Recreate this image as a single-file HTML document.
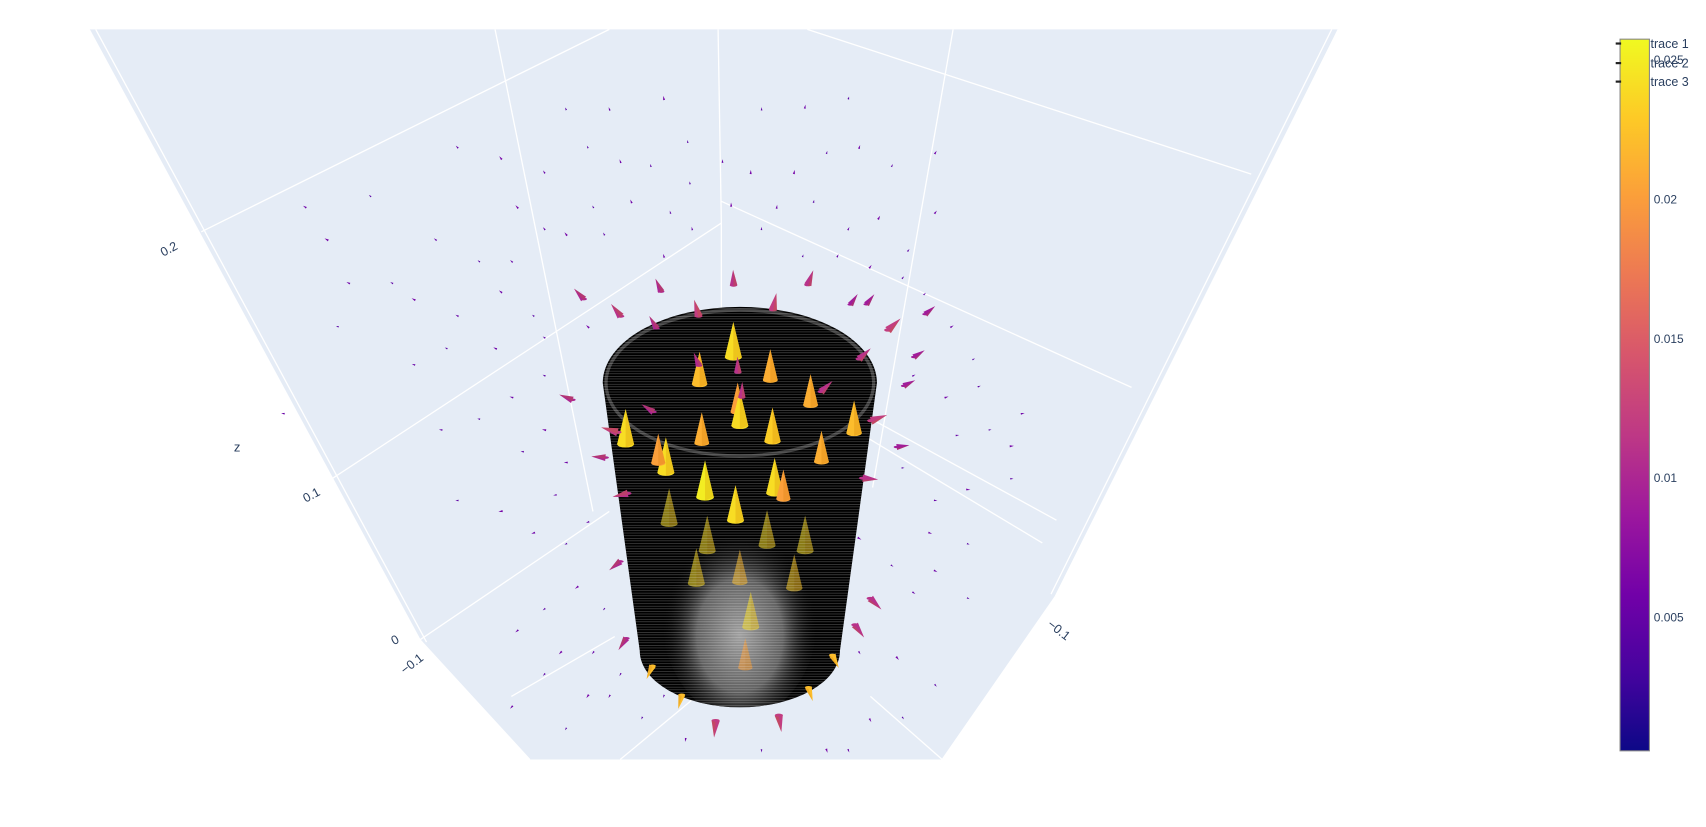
<!DOCTYPE html>
<html><head><meta charset="utf-8">
<style>
html,body{margin:0;padding:0;background:#fff;}
svg{display:block;font-family:"Liberation Sans",sans-serif;}
</style></head>
<body>
<svg id="chart" width="1706" height="827" viewBox="0 0 1568 760" preserveAspectRatio="none" xmlns="http://www.w3.org/2000/svg">
<defs>
<linearGradient id="plasma" x1="0" y1="1" x2="0" y2="0">
<stop offset="0" stop-color="#0d0887"/><stop offset="0.11" stop-color="#46039f"/><stop offset="0.22" stop-color="#7201a8"/><stop offset="0.33" stop-color="#9c179e"/><stop offset="0.44" stop-color="#bd3786"/><stop offset="0.56" stop-color="#d8576b"/><stop offset="0.67" stop-color="#ed7953"/><stop offset="0.78" stop-color="#fb9f3a"/><stop offset="0.89" stop-color="#fdca26"/><stop offset="1" stop-color="#f0f921"/>
</linearGradient>
<radialGradient id="innerGlow" cx="0.5" cy="0.6" r="0.5">
<stop offset="0" stop-color="#b0b0b0"/><stop offset="0.55" stop-color="#6a6a6a"/><stop offset="1" stop-color="#000" stop-opacity="0"/>
</radialGradient>
<pattern id="stripes" width="4" height="2.4" patternUnits="userSpaceOnUse">
<rect width="4" height="0.5" fill="#fff" opacity="0.35"/>
</pattern>
<clipPath id="cylClip"><path d="M554,352 A126,70 0 0 1 806,352 L772,598 A92,52 0 0 1 588,598 Z"/></clipPath>
</defs>

<g>
<polygon points="82,27 1230,27 970,548 866,698 487,698 386,588" fill="#e5ecf6"/>
<g stroke="#fff" stroke-width="1.2" fill="none">
<line x1="82" y1="27" x2="386" y2="588"/><line x1="88" y1="27" x2="392" y2="590"/>
<line x1="1230" y1="27" x2="970" y2="548"/><line x1="1224" y1="27" x2="966" y2="546"/>
<line x1="386" y1="588" x2="487" y2="698"/><line x1="970" y1="548" x2="866" y2="698"/>
<line x1="660" y1="27" x2="663" y2="205"/>
<line x1="876" y1="27" x2="802" y2="448"/>
<line x1="455" y1="27" x2="545" y2="470"/>
<line x1="742" y1="27" x2="1150" y2="160"/>
<line x1="663" y1="185" x2="1040" y2="356"/>
<line x1="797" y1="383" x2="971" y2="478"/>
<line x1="790" y1="398" x2="958" y2="499"/>
<line x1="185" y1="213" x2="560" y2="27"/>
<line x1="305" y1="440" x2="663" y2="205"/>
<line x1="386" y1="588" x2="560" y2="470"/>
<line x1="470" y1="640" x2="565" y2="585"/>
<line x1="570" y1="698" x2="640" y2="640"/>
<line x1="866" y1="698" x2="800" y2="640"/>
<line x1="663" y1="205" x2="663" y2="290"/>
</g>
</g>

<g fill="#2a3f5f" font-size="11.5">
<text transform="translate(150,236) rotate(-28)">0.2</text>
<text transform="translate(281,462) rotate(-28)">0.1</text>
<text transform="translate(362,593) rotate(-28)">0</text>
<text x="215" y="415" font-size="12">z</text>
<text transform="translate(372,620) rotate(-38)">−0.1</text>
<text transform="translate(962,575) rotate(38)">−0.1</text>
</g>

<g id="backCones"></g>

<g>
<path d="M554,352 A126,70 0 0 1 806,352 L772,598 A92,52 0 0 1 588,598 Z" fill="#000"/>
<g clip-path="url(#cylClip)">
<ellipse cx="680" cy="565" rx="72" ry="95" fill="url(#innerGlow)" opacity="0.9"/>
<ellipse cx="680" cy="352" rx="123" ry="67" fill="none" stroke="#555" stroke-width="3" opacity="0.7"/>
<g id="fadedCones" opacity="0.55"></g>
<rect x="540" y="270" width="280" height="400" fill="url(#stripes)"/>
</g>
</g>

<g id="frontCones"></g>
<g id="midCones"></g>

<g>
<rect x="1489" y="36" width="27" height="654" fill="url(#plasma)" stroke="#888" stroke-width="1"/>
<g id="cbTicks" fill="#2a3f5f" font-size="11"></g>
</g>

<g fill="#2a3f5f" font-size="11.5">
<g><line x1="1485" y1="40" x2="1490" y2="40" stroke="#222" stroke-width="2"/><text x="1517" y="44">trace 1</text></g>
<g><line x1="1485" y1="58" x2="1490" y2="58" stroke="#222" stroke-width="2"/><text x="1517" y="62">trace 2</text></g>
<g><line x1="1485" y1="75" x2="1490" y2="75" stroke="#222" stroke-width="2"/><text x="1517" y="79">trace 3</text></g>
</g>
</svg>
<script>
// Colorbar data
const cbTickValues = [0.005, 0.01, 0.015, 0.02, 0.025];
const cbTickLabels = ["0.005", "0.01", "0.015", "0.02", "0.025"];
// Large cones (scene u: horizontal, w: height), magnitude
const bigU = [-0.006,-0.037,0.028,0.065,-0.002,0.000,-0.105,0.105,-0.068,-0.035,0.030,0.075,-0.032,0.032,0.040,-0.004,-0.075];
const bigW = [0.388,0.362,0.365,0.342,0.335,0.325,0.308,0.317,0.282,0.307,0.310,0.290,0.260,0.263,0.255,0.238,0.288];
const bigMag = [0.024,0.022,0.021,0.021,0.020,0.024,0.024,0.022,0.024,0.021,0.023,0.021,0.025,0.024,0.020,0.024,0.020];
// Faded cones inside the surface
const fadeU = [-0.065,-0.030,0.025,0.060,0.000,0.010,-0.040,0.050,0.005];
const fadeW = [0.235,0.210,0.215,0.210,0.180,0.140,0.180,0.175,0.100];
const fadeMag = [0.024,0.024,0.024,0.024,0.022,0.024,0.024,0.023,0.020];
// Bottom ring cones
const ringU = [-0.083,-0.055,0.065,0.088];
const ringW = [0.082,0.055,0.062,0.092];
const ringMag = [0.022,0.022,0.022,0.022];
// Medium magenta cones
const midU = [-0.040,-0.006,0.032,-0.075,0.065,-0.114,-0.148,-0.080,0.142,0.115,0.080,0.128,-0.120,-0.160,-0.085,0.002,-0.002,-0.040,0.120,-0.110,-0.115,0.125,0.110,-0.108,-0.023,0.037,-0.130,0.150,0.156,0.165,0.120,0.105,0.175];
const midW = [0.417,0.445,0.423,0.438,0.445,0.415,0.430,0.404,0.402,0.375,0.345,0.316,0.305,0.335,0.325,0.342,0.365,0.370,0.260,0.245,0.180,0.145,0.120,0.108,0.030,0.035,0.280,0.290,0.348,0.375,0.425,0.425,0.415];
const midMag = [0.012,0.011,0.012,0.010,0.011,0.011,0.010,0.010,0.012,0.011,0.011,0.012,0.012,0.010,0.010,0.011,0.011,0.010,0.011,0.011,0.010,0.011,0.011,0.010,0.012,0.012,0.010,0.009,0.009,0.009,0.009,0.009,0.009];
// Small purple cones
const smallU = [-0.048,-0.016,0.010,-0.082,-0.110,-0.140,-0.180,0.050,0.080,0.110,-0.160,-0.120,-0.070,0.020,0.060,0.100,-0.260,-0.220,0.140,0.180,-0.046,-0.044,-0.008,-0.064,-0.100,-0.135,-0.180,-0.205,0.020,0.034,0.068,0.100,0.128,0.155,0.180,-0.240,-0.210,-0.160,-0.125,-0.070,0.058,0.090,0.120,0.150,-0.220,-0.190,-0.260,-0.300,-0.180,-0.225,-0.270,-0.300,-0.140,0.170,0.195,0.215,0.160,0.190,0.220,0.260,0.230,0.200,0.250,-0.180,-0.210,-0.240,-0.275,-0.180,-0.200,-0.160,0.150,0.180,0.210,0.250,0.175,0.210,-0.170,-0.220,-0.260,-0.190,-0.160,-0.140,0.110,0.140,0.180,0.210,0.160,-0.150,-0.180,-0.205,-0.125,-0.135,-0.165,-0.110,-0.080,0.065,0.110,0.145,0.180,0.120,0.150,0.100,0.080,0.020,-0.050,-0.090,-0.120,-0.140,-0.180,-0.210,-0.160,-0.020,0.010,-0.070,-0.400,-0.340,-0.280,-0.380,-0.320,-0.360,-0.370,-0.420];
const smallW = [0.570,0.552,0.542,0.548,0.552,0.565,0.542,0.542,0.560,0.565,0.600,0.600,0.610,0.600,0.602,0.610,0.565,0.555,0.548,0.560,0.532,0.490,0.512,0.505,0.515,0.510,0.490,0.510,0.490,0.510,0.515,0.490,0.500,0.470,0.505,0.460,0.460,0.485,0.485,0.465,0.465,0.465,0.455,0.445,0.432,0.410,0.410,0.425,0.390,0.380,0.380,0.365,0.400,0.430,0.400,0.370,0.355,0.335,0.345,0.320,0.305,0.300,0.290,0.355,0.335,0.315,0.305,0.305,0.285,0.275,0.270,0.240,0.250,0.260,0.210,0.200,0.245,0.230,0.240,0.210,0.200,0.220,0.205,0.180,0.175,0.150,0.155,0.160,0.140,0.120,0.140,0.100,0.100,0.080,0.080,0.095,0.100,0.095,0.070,0.038,0.040,0.010,0.010,0.010,0.020,0.040,0.060,0.060,0.080,0.050,0.030,0.060,0.070,0.060,0.510,0.520,0.480,0.480,0.440,0.440,0.400,0.320];
const smallMag = smallU.map((_, i) => [0.004,0.005,0.006,0.0045,0.0055][i % 5]);

const svg = document.getElementById('chart');
const NS = 'http://www.w3.org/2000/svg';
// scene axis functions
const sx = u => 680 + u * 1000;
const sy = w => 700 - w * 1000;
const cbY = v => 695 - v * 25600;
const CX = 680, CY = 430;

function plasma(t) {
  const s = [[13,8,135],[70,3,159],[114,1,168],[156,23,158],[189,55,134],[216,87,107],[237,121,83],[251,159,58],[253,202,38],[240,249,33]];
  t = Math.max(0, Math.min(1, t)) * (s.length - 1);
  const i = Math.min(s.length - 2, Math.floor(t)), f = t - i;
  const c = s[i].map((a, k) => Math.round(a + (s[i + 1][k] - a) * f));
  return 'rgb(' + c.join(',') + ')';
}
function cone(parent, u, w, mag, mode, scale, name) {
  const x = sx(u), y = sy(w);
  let ang;
  if (mode === 'up') ang = -Math.PI / 2;
  else if (mode === 'down') ang = Math.atan2(1, (x - CX) / 60);
  else ang = Math.atan2(y - CY, x - CX);
  const h = Math.max(2, mag * scale), b = Math.max(1.5, h * 0.48);
  const dx = Math.cos(ang), dy = Math.sin(ang), px = -dy, py = dx;
  const tx = x + dx * h / 2, ty = y + dy * h / 2, bx = x - dx * h / 2, by = y - dy * h / 2;
  const col = plasma(mag / 0.0257);
  const p = document.createElementNS(NS, 'polygon');
  
  
  p.setAttribute('points', [tx, ty, bx + px * b / 2, by + py * b / 2, bx - px * b / 2, by - py * b / 2].map(v => v.toFixed(1)).join(' '));
  p.setAttribute('fill', col);
  parent.appendChild(p);
  if (h > 10) {
    const e = document.createElementNS(NS, 'ellipse');
    
    
    e.setAttribute('cx', bx.toFixed(1)); e.setAttribute('cy', by.toFixed(1));
    e.setAttribute('rx', (b / 2).toFixed(1)); e.setAttribute('ry', (b / 5).toFixed(1));
    e.setAttribute('fill', col);
    parent.appendChild(e);
    const sh = document.createElementNS(NS, 'polygon');
    
    
    sh.setAttribute('points', [tx, ty, bx, by + b / 5, bx + px * b / 2, by + py * b / 2].map(v => v.toFixed(1)).join(' '));
    sh.setAttribute('fill', '#c87000'); sh.setAttribute('opacity', '0.22');
    parent.appendChild(sh);
  }
}
const back = document.getElementById('backCones');
for (let i = 0; i < smallU.length; i++) cone(back, smallU[i], smallW[i], smallMag[i], 'out', 650, 'small-cone');
const faded = document.getElementById('fadedCones');
for (let i = 0; i < fadeU.length; i++) cone(faded, fadeU[i], fadeW[i], fadeMag[i], 'up', 1350, 'inner-cone');
const front = document.getElementById('frontCones');
for (let i = 0; i < bigU.length; i++) cone(front, bigU[i], bigW[i], bigMag[i], 'up', 1350, 'large-cone');
for (let i = 0; i < ringU.length; i++) cone(front, ringU[i], ringW[i], ringMag[i], 'out', 600, 'ring-cone');
const mid = document.getElementById('midCones');
for (let i = 0; i < midU.length; i++) cone(mid, midU[i], midW[i], midMag[i], 'out', 1300, 'medium-cone');

const cb = document.getElementById('cbTicks');
cbTickValues.forEach((v, i) => {
  const t = document.createElementNS(NS, 'text');
  
  
  t.setAttribute('x', 1520);
  t.setAttribute('y', (cbY(v) + 4).toFixed(1));
  t.textContent = cbTickLabels[i];
  cb.appendChild(t);
});
</script>
</body></html>
